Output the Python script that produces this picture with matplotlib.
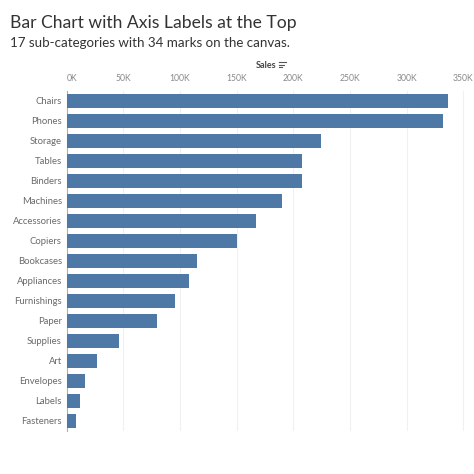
import matplotlib.pyplot as plt
from matplotlib.lines import Line2D

# sub-categories, sorted by sales
sub_categories = ['Chairs', 'Phones', 'Storage', 'Tables', 'Binders', 'Machines',
                  'Accessories', 'Copiers', 'Bookcases', 'Appliances', 'Furnishings',
                  'Paper', 'Supplies', 'Art', 'Envelopes', 'Labels', 'Fasteners']
sales = [336000, 332000, 224500, 208000, 207500, 189700,
         167300, 150600, 115200, 107900, 95300,
         79400, 46400, 27000, 16100, 12000, 7900]
tick_values = [0, 50000, 100000, 150000, 200000, 250000, 300000, 350000]
tick_labels = ['0K', '50K', '100K', '150K', '200K', '250K', '300K', '350K']

plt.rcParams['font.family'] = ['Lato', 'DejaVu Sans']

W = H = 474
fig = plt.figure(figsize=(4.74, 4.74), dpi=100)
ax = fig.add_axes([66.7 / W, 43 / H, 403.5 / W, 340 / H])

ypos = list(range(len(sub_categories)))
ax.barh(ypos, sales, height=0.7, color='#4e79a7', zorder=3)
ax.set_ylim(len(sub_categories) - 0.5, -0.5)
ax.set_xlim(0, 356000)

ax.set_yticks(ypos)
ax.set_yticklabels(sub_categories, fontsize=6.8, color='#6a6a6a')
ax.xaxis.tick_top()
ax.set_xticks(tick_values)
ax.set_xticklabels(tick_labels, fontsize=6.2, color='#8a8a8a')
ax.get_xticklabels()[0].set_ha('left')
ax.tick_params(axis='both', length=0)
ax.tick_params(axis='y', pad=3.5)
ax.tick_params(axis='x', pad=6)

ax.grid(axis='x', color='#f0f0f0', linewidth=0.8, zorder=0)
for s in ['top', 'right', 'bottom']:
    ax.spines[s].set_visible(False)
ax.spines['left'].set_color('#b0b0b0')
ax.spines['left'].set_linewidth(0.8)

fig.text(10 / W, 1 - 23 / H, 'Bar Chart with Axis Labels at the Top',
         fontsize=12.6, color='#333333', va='center', ha='left')
fig.text(10 / W, 1 - 43 / H, '17 sub-categories with 34 marks on the canvas.',
         fontsize=9.6, color='#333333', va='center', ha='left')
fig.text(266 / W, 1 - 65 / H, 'Sales', fontsize=6.5, fontweight='bold',
         color='#444444', va='center', ha='center')

# small sort icon next to the field name
for i, ln in enumerate([7, 5, 3]):
    y = 1 - (62 + i * 2.5) / H
    fig.add_artist(Line2D([279 / W, (279 + ln) / W], [y, y],
                          color='#555555', linewidth=0.8))

fig.savefig('out.png', dpi=100)
